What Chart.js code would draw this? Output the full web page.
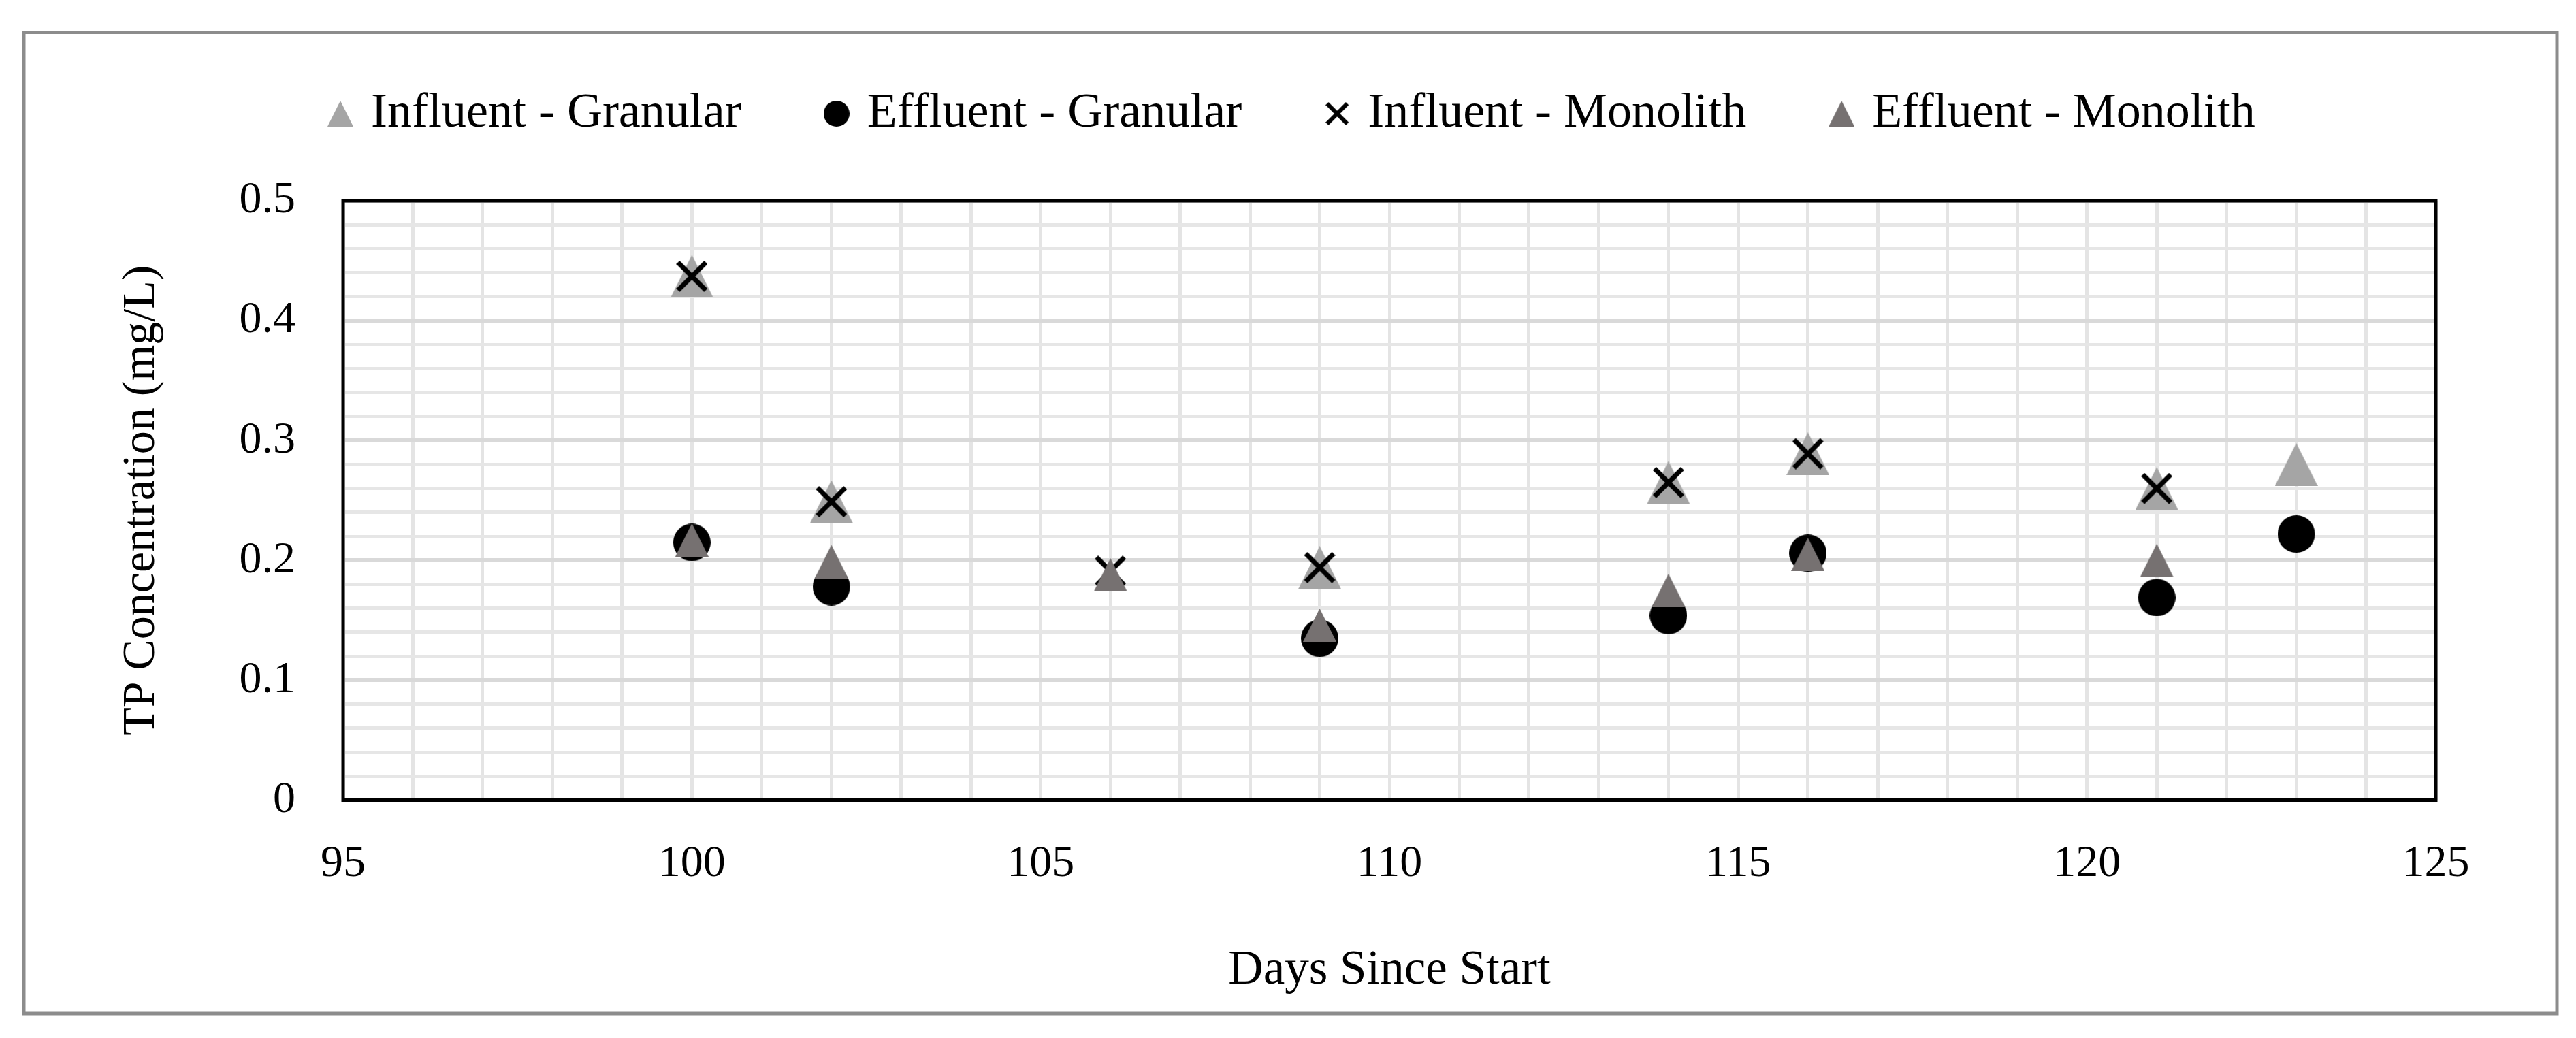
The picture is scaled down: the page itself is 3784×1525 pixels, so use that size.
<!DOCTYPE html>
<html>
<head>
<meta charset="utf-8">
<script src="https://cdn.jsdelivr.net/npm/chart.js@4.4.1/dist/chart.umd.min.js"></script>
<style>
  html, body { margin: 0; padding: 0; background: #fff; }
  #wrap { width: 3784px; height: 1525px; }
</style>
</head>
<body>
<div id="wrap"><canvas id="chart" width="3784" height="1525"></canvas></div>
<script>
// values
var days = [100, 102, 106, 109, 114, 116, 121, 123];
var influentGranular = [0.437, 0.249, null, 0.194, 0.265, 0.289, 0.260, 0.280];
var effluentGranular = [0.215, 0.178, null, 0.135, 0.154, 0.206, 0.169, 0.222];
var influentMonolith = [0.437, 0.249, 0.191, 0.194, 0.265, 0.289, 0.260, null];
var effluentMonolith = [0.217, 0.199, 0.188, 0.146, 0.175, 0.205, 0.200, null];
var seriesNames = ['Influent - Granular', 'Effluent - Granular', 'Influent - Monolith', 'Effluent - Monolith'];
var xTicks = [95, 100, 105, 110, 115, 120, 125];
var yTicks = [0, 0.1, 0.2, 0.3, 0.4, 0.5];

var FONT = 'Liberation Serif';

function makeMarker(kind, size, color, lw) {
  var c = document.createElement('canvas');
  c.width = size; c.height = size;
  var g = c.getContext('2d');
  g.fillStyle = color; g.strokeStyle = color;
  g.beginPath();
  if (kind === 'triangle') {
    g.moveTo(size / 2, 0); g.lineTo(size, size); g.lineTo(0, size); g.closePath(); g.fill();
  } else if (kind === 'circle') {
    g.arc(size / 2, size / 2, size / 2, 0, Math.PI * 2); g.fill();
  } else {
    var m = lw * 0.36;
    g.lineWidth = lw;
    g.moveTo(m, m); g.lineTo(size - m, size - m);
    g.moveTo(size - m, m); g.lineTo(m, size - m);
    g.stroke();
  }
  return c;
}

var lightGray = '#a5a5a5', darkGray = '#767171';
var plotMarks = [
  makeMarker('triangle', 63, lightGray),
  makeMarker('circle', 55, '#000'),
  makeMarker('cross', 46, '#000', 7),
  makeMarker('triangle', 49, darkGray)
];
var legendMarks = [
  makeMarker('triangle', 38, lightGray),
  makeMarker('circle', 38, '#000'),
  makeMarker('cross', 34, '#000', 6),
  makeMarker('triangle', 38, darkGray)
];
var colors = [lightGray, '#000', '#000', darkGray];

function points(vals) {
  var out = [];
  for (var i = 0; i < days.length; i++) {
    if (vals[i] !== null) out.push({x: days[i], y: vals[i]});
  }
  return out;
}

var allSeries = [influentGranular, effluentGranular, influentMonolith, effluentMonolith];
var datasets = allSeries.map(function(vals, i) {
  return {
    label: seriesNames[i],
    data: points(vals),
    pointStyle: plotMarks[i],
    pointRadius: 28,
    backgroundColor: colors[i],
    borderColor: colors[i],
    showLine: false,
    order: allSeries.length - i   // first series drawn first (at the bottom)
  };
});

var framePlugin = {
  id: 'frame',
  beforeDraw: function(chart) {
    var ctx = chart.ctx;
    ctx.save();
    ctx.fillStyle = '#fff';
    ctx.fillRect(0, 0, chart.width, chart.height);
    ctx.strokeStyle = '#8c8c8c';
    ctx.lineWidth = 5;
    ctx.strokeRect(35, 47.5, 3721, 1441.5);
    ctx.restore();
  },
  beforeDatasetsDraw: function(chart) {
    var a = chart.chartArea, ctx = chart.ctx;
    ctx.save();
    ctx.strokeStyle = '#000';
    ctx.lineWidth = 5;
    ctx.strokeRect(a.left, a.top, a.right - a.left, a.bottom - a.top);
    ctx.restore();
  }
};

// more room under the legend, and move the legend row a bit to the right
var legendTweak = {
  id: 'legendTweak',
  beforeInit: function(chart) {
    var origFit = chart.legend.fit;
    chart.legend.fit = function() {
      origFit.bind(chart.legend)();
      this.height += 82;
    };
  },
  afterLayout: function(chart) {
    var lg = chart.legend;
    var pad = lg.options.labels.padding;
    var start = (lg.left + pad + lg.right - lg.lineWidths[0]) / 2;
    var dx = 491 - start;
    lg.left += dx; lg.right += dx;
  }
};

new Chart(document.getElementById('chart'), {
  type: 'scatter',
  data: { datasets: datasets },
  plugins: [framePlugin, legendTweak],
  options: {
    responsive: false,
    devicePixelRatio: 1,
    animation: false,
    events: [],
    layout: { padding: { left: 100, right: 206, top: 0, bottom: 54 } },
    plugins: {
      tooltip: { enabled: false },
      legend: {
        position: 'top',
        labels: {
          usePointStyle: true,
          boxWidth: 18,
          padding: 131,
          color: '#000',
          font: { family: FONT, size: 72 },
          generateLabels: function(chart) {
            return chart.data.datasets.map(function(ds, i) {
              return {
                text: ds.label,
                datasetIndex: i,
                pointStyle: legendMarks[i],
                fillStyle: ds.backgroundColor,
                strokeStyle: ds.borderColor,
                lineWidth: 0,
                hidden: false,
                fontColor: '#000'
              };
            });
          }
        }
      }
    },
    scales: {
      x: {
        type: 'linear',
        min: xTicks[0],
        max: xTicks[xTicks.length - 1],
        afterFit: function(scale) { scale.height = 295.5; },
        ticks: {
          stepSize: 1,
          autoSkip: false,
          maxRotation: 0,
          padding: 55,
          color: '#000',
          font: { family: FONT, size: 66 },
          callback: function(v) { return xTicks.indexOf(v) >= 0 ? String(v) : ''; }
        },
        grid: { color: '#e4e4e4', lineWidth: 5, drawTicks: false },
        border: { display: false },
        title: {
          display: true,
          text: 'Days Since Start',
          color: '#000',
          font: { family: FONT, size: 71 },
          padding: { top: 0, bottom: 2 }
        }
      },
      y: {
        type: 'linear',
        min: yTicks[0],
        max: yTicks[yTicks.length - 1],
        afterFit: function(scale) { scale.width = 404; },
        ticks: {
          stepSize: 0.02,
          autoSkip: false,
          padding: 70,
          color: '#000',
          font: { family: FONT, size: 66 },
          callback: function(v) {
            for (var i = 0; i < yTicks.length; i++) {
              if (Math.abs(yTicks[i] - v) < 1e-9) return String(yTicks[i]);
            }
            return '';
          }
        },
        grid: {
          drawTicks: false,
          color: function(c) {
            return Math.round(c.tick.value * 50) % 5 === 0 ? '#d9d9d9' : '#e6e6e6';
          },
          lineWidth: function(c) {
            return Math.round(c.tick.value * 50) % 5 === 0 ? 6 : 5;
          }
        },
        border: { display: false },
        title: {
          display: true,
          text: 'TP Concentration (mg/L)',
          color: '#000',
          font: { family: FONT, size: 68 },
          padding: { top: 67, bottom: 0 }
        }
      }
    }
  }
});
</script>
</body>
</html>
